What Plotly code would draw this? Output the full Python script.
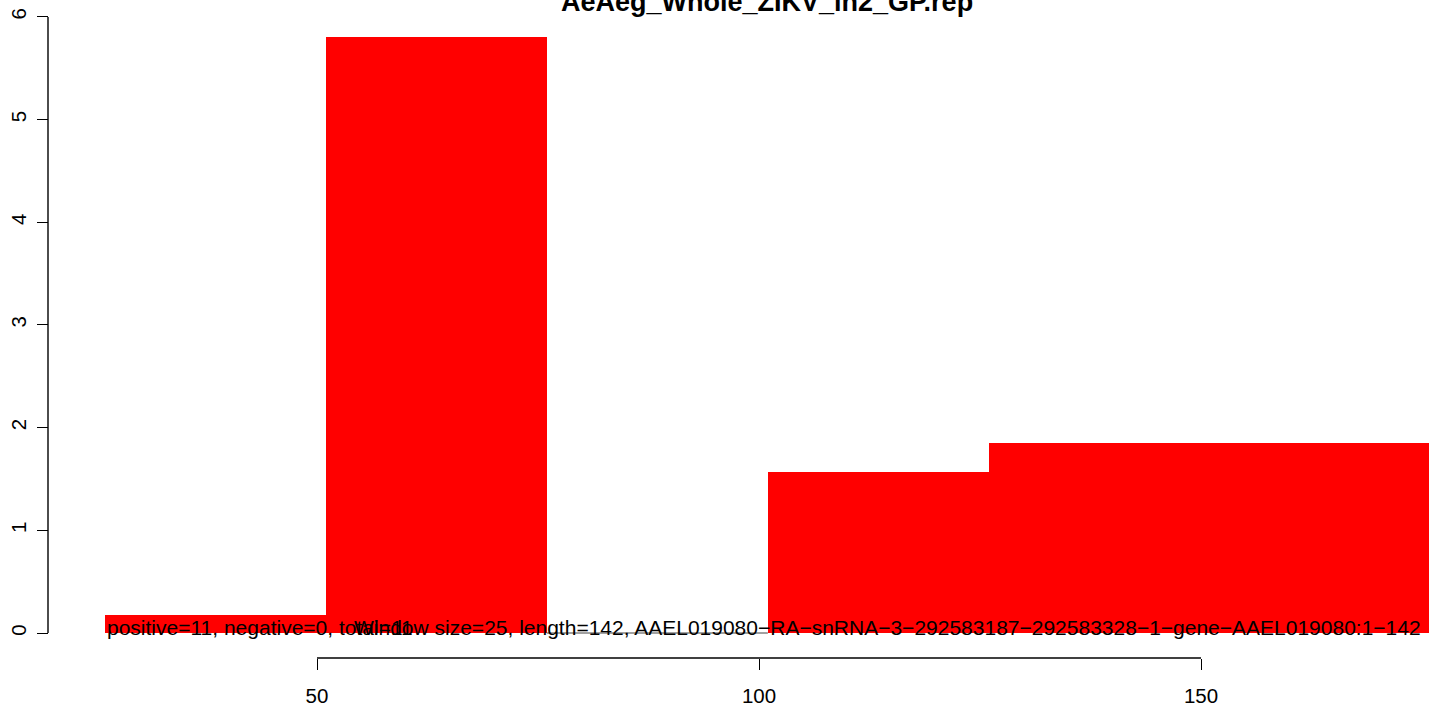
import plotly.graph_objects as go

# window bins (start, end) and their values
BIN_START = [26, 51, 76, 101, 126]
BIN_END = [51, 76, 101, 126, 176]
BIN_VALUE = [0.18, 5.80, 0.0, 1.57, 1.85]

X_TICKS = [50, 100, 150]
Y_TICKS = [0, 1, 2, 3, 4, 5, 6]

TITLE = "AeAeg_Whole_ZIKV_ln2_GP.rep"
COUNT_TEXT = "positive=11, negative=0, total=11"
INFO_TEXT = (
    "Window size=25, length=142, "
    "AAEL019080\u2212RA\u2212snRNA\u22123\u2212292583187\u2212292583328\u22121\u2212gene\u2212AAEL019080:1\u2212142"
)

W, H = 1429, 706
X_RANGE = [14.14, 175.79]
Y_RANGE = [-0.711, 6.165]
FONT = "Liberation Sans, Arial, Helvetica, sans-serif"

fig = go.Figure()

centers = [(s + e) / 2 for s, e in zip(BIN_START, BIN_END)]
widths = [e - s for s, e in zip(BIN_START, BIN_END)]
fig.add_trace(
    go.Bar(
        x=centers,
        y=BIN_VALUE,
        width=widths,
        base=0,
        marker={"color": "#ff0000", "line": {"width": 0}},
        hoverinfo="skip",
    )
)

# zero-height windows still show their outline
for s, e, v in zip(BIN_START, BIN_END, BIN_VALUE):
    if v == 0:
        fig.add_trace(
            go.Scatter(
                x=[s, e],
                y=[0, 0],
                mode="lines",
                line={"color": "#444444", "width": 1},
                hoverinfo="skip",
            )
        )

fig.add_annotation(
    x=BIN_START[0], y=-0.075, xref="x", yref="y",
    text=COUNT_TEXT, showarrow=False, xanchor="left", yanchor="bottom",
    font={"family": FONT, "size": 21, "color": "black"},
)
fig.add_annotation(
    x=54.0, y=-0.075, xref="x", yref="y",
    text=INFO_TEXT, showarrow=False, xanchor="left", yanchor="bottom",
    font={"family": FONT, "size": 21, "color": "black"},
)
fig.add_annotation(
    x=767 / W, y=1 - 19 / H, xref="paper", yref="paper",
    text=f"<b>{TITLE}</b>", showarrow=False, xanchor="center", yanchor="bottom",
    font={"family": FONT, "size": 27, "color": "black"},
)

# R-style axis lines that span only the tick range
fig.add_shape(
    type="line", xref="x", yref="paper",
    x0=X_TICKS[0], x1=X_TICKS[-1], y0=48 / H, y1=48 / H,
    line={"color": "black", "width": 1.4},
)
fig.add_shape(
    type="line", xref="paper", yref="y",
    x0=48 / W, x1=48 / W, y0=Y_TICKS[0], y1=Y_TICKS[-1],
    line={"color": "black", "width": 1.4},
)

axis_common = {
    "anchor": "free",
    "ticks": "outside",
    "ticklen": 11,
    "tickwidth": 1.4,
    "tickcolor": "black",
    "showgrid": False,
    "zeroline": False,
    "showline": False,
    "automargin": False,
    "tickfont": {"family": FONT, "size": 20.5, "color": "black"},
}

fig.update_layout(
    width=W,
    height=H,
    margin={"l": 0, "r": 0, "t": 0, "b": 0},
    paper_bgcolor="white",
    plot_bgcolor="white",
    showlegend=False,
    bargap=0,
    xaxis={
        **axis_common,
        "range": X_RANGE,
        "position": 48 / H,
        "tickvals": X_TICKS,
        "ticklabelstandoff": 8,
    },
    yaxis={
        **axis_common,
        "range": Y_RANGE,
        "position": 48 / W,
        "tickvals": Y_TICKS,
        "tickangle": -90,
        "ticklabelstandoff": 3,
    },
)

fig.write_html(
    "out.html",
    config={"displayModeBar": False},
    post_script="document.body.style.margin='0';document.body.style.overflow='hidden';",
)
